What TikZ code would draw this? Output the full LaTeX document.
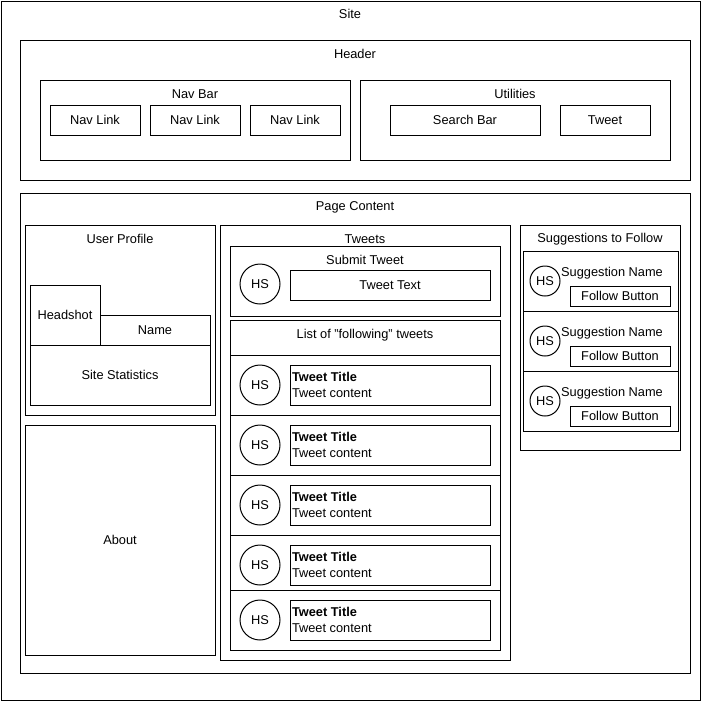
\documentclass[tikz,border=0pt]{standalone}
\usepackage{fontspec}
\setmainfont{Liberation Sans}
\tikzset{
  wb/.style={draw, line width=1pt, inner sep=0pt, outer sep=0pt, anchor=north west,
             font=\fontsize{12.8}{15}\selectfont, align=center},
  ttl/.style={inner sep=0pt, outer sep=0pt, font=\fontsize{12.8}{15}\selectfont},
  hs/.style={draw, circle, line width=1pt, inner sep=0pt, font=\fontsize{12.8}{15}\selectfont},
  tw/.style={inner sep=0pt, outer sep=0pt, anchor=west, align=left, font=\fontsize{12.8}{16}\selectfont}
}
\newcommand\wbox[6]{\node[wb, minimum width={(#4)-(#2)}, minimum height={(#5)-(#3)}] (#1) at (#2,#3) {#6};}
\begin{document}
\begin{tikzpicture}[x=1pt,y=-1pt]
\useasboundingbox (0,0) rectangle (701,702);
% Site
\wbox{site}{1}{1}{700}{700}{}
\node[ttl] (siteT) at (350,14) {Site};
% Header
\wbox{header}{20}{40}{690}{180}{}
\node[ttl] (headerT) at (355,54) {Header};
\wbox{navbar}{40}{80}{350}{160}{}
\node[ttl] (navbarT) at (195,94) {Nav Bar};
\wbox{nav1}{50}{105}{140}{135}{Nav Link}
\wbox{nav2}{150}{105}{240}{135}{Nav Link}
\wbox{nav3}{250}{105}{340}{135}{Nav Link}
\wbox{util}{360}{80}{670}{160}{}
\node[ttl] (utilT) at (515,94) {Utilities};
\wbox{search}{390}{105}{540}{135}{Search Bar}
\wbox{tweetbtn}{560}{105}{650}{135}{Tweet}
% Page content
\wbox{page}{20}{193}{690}{673}{}
\node[ttl] (pageT) at (355,207) {Page Content};
% User profile
\wbox{profile}{25}{225}{215}{415}{}
\node[ttl] (profileT) at (120,239) {User Profile};
\wbox{headshot}{30}{285}{100}{345}{Headshot}
\wbox{name}{100}{315}{210}{345}{Name}
\wbox{stats}{30}{345}{210}{405}{Site Statistics}
\wbox{about}{25}{425}{215}{655}{About}
% Tweets
\wbox{tweets}{220}{225}{510}{660}{}
\node[ttl] (tweetsT) at (365,239) {Tweets};
\wbox{submit}{230}{246}{500}{316}{}
\node[ttl] (submitT) at (365,260) {Submit Tweet};
\node[hs, minimum size=40pt] (hs0) at (260,284) {HS};
\wbox{tweettext}{290}{270}{490}{300}{Tweet Text}
\wbox{list}{230}{320}{500}{650}{}
\wbox{listhead}{230}{320}{500}{355}{}
\node[ttl] (listT) at (365,335) {List of "following" tweets};
\foreach \i/\t/\b/\c in {1/355/415/385, 2/415/475/445, 3/475/535/505, 4/535/590/565, 5/590/650/620}{
  \wbox{row\i}{230}{\t}{500}{\b}{}
  \node[hs, minimum size=40pt] (hs\i) at (260,\c) {HS};
  \wbox{tb\i}{290}{\c-20}{490}{\c+20}{}
  \node[tw] (tt\i) at (292,\c) {\textbf{Tweet Title}\\Tweet content};
}
% Suggestions
\wbox{sugg}{520}{225}{680}{450}{}
\node[ttl] (suggT) at (600,239) {Suggestions to Follow};
\wbox{sugglist}{523}{251}{678}{431}{}
\foreach \j/\t in {1/251, 2/311, 3/371}{
  \wbox{srow\j}{523}{\t}{678}{\t+60}{}
  \node[hs, minimum size=30pt] (shs\j) at (545,\t+30) {HS};
  \node[ttl] (sname\j) at (612,\t+22) {Suggestion Name};
  \wbox{follow\j}{570}{\t+35}{670}{\t+55}{Follow Button}
}
\end{tikzpicture}
\end{document}
